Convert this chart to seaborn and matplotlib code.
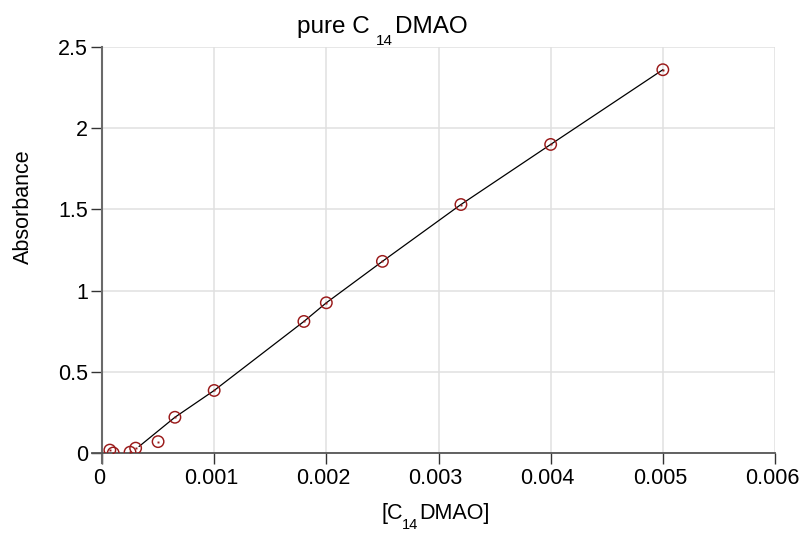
import matplotlib
matplotlib.use("Agg")
import matplotlib.pyplot as plt
import matplotlib.transforms as mtrans
import seaborn as sns
import pandas as pd

# Data
conc = [0.00007, 0.0001, 0.00025, 0.0003, 0.0005, 0.00065, 0.001, 0.0018,
        0.002, 0.0025, 0.0032, 0.004, 0.005]
absorb = [0.018, 0.0, 0.005, 0.03, 0.07, 0.22, 0.385, 0.81,
          0.925, 1.18, 1.53, 1.90, 2.36]

fit_x = [0.00033, 0.00065, 0.001, 0.0018, 0.002, 0.0025, 0.0032, 0.004, 0.005]
fit_y = [0.04, 0.22, 0.385, 0.81, 0.925, 1.18, 1.53, 1.90, 2.36]

x_ticks = [0, 0.001, 0.002, 0.003, 0.004, 0.005, 0.006]
x_tick_labels = ["0", "0.001", "0.002", "0.003", "0.004", "0.005", "0.006"]
y_ticks = [0, 0.5, 1, 1.5, 2, 2.5]
y_tick_labels = ["0", "0.5", "1", "1.5", "2", "2.5"]

title_parts = ["pure C", "14", "DMAO"]
xlabel_parts = ["[C", "14", "DMAO]"]
ylabel_text = "Absorbance"

pts = pd.DataFrame({"conc": conc, "abs": absorb})
fit = pd.DataFrame({"conc": fit_x, "abs": fit_y})

sns.set_theme(style="whitegrid")
plt.rcParams["font.family"] = ["Liberation Sans", "DejaVu Sans"]
plt.rcParams["text.color"] = "black"
plt.rcParams["axes.labelcolor"] = "black"

W, H = 803, 534
fig = plt.figure(figsize=(W / 100, H / 100), dpi=100)
L, R, T, B = 102, 775, 47, 453
ax = fig.add_axes([L / W, 1 - B / H, (R - L) / W, (B - T) / H])

red = "#9a1a1a"
sns.lineplot(data=fit, x="conc", y="abs", ax=ax, color="black", lw=0.9,
             sort=False, estimator=None, zorder=3)
sns.scatterplot(data=pts, x="conc", y="abs", ax=ax, marker="o", s=68,
                facecolor="none", edgecolor=red, linewidth=1.05, zorder=4)
ax.plot(pts["conc"], pts["abs"], ls="none", marker="s", ms=1.4, mfc=red,
        mec=red, mew=0, zorder=5)

ax.set_xlim(0, 0.006)
ax.set_ylim(0, 2.5)
ax.set_xticks(x_ticks)
ax.set_xticklabels(x_tick_labels)
ax.set_yticks(y_ticks)
ax.set_yticklabels(y_tick_labels)
ax.set_xlabel("")
ax.set_ylabel("")

ax.grid(True, color="#e0e0e0", lw=1.1)
ax.set_axisbelow(True)
for s in ["top", "right"]:
    ax.spines[s].set_visible(False)
ax.spines["left"].set_visible(True)
ax.spines["bottom"].set_visible(True)
ax.spines["left"].set_color("#6a6a6a")
ax.spines["bottom"].set_color("#555555")
ax.spines["left"].set_linewidth(1.5)
ax.spines["bottom"].set_linewidth(1.3)
ax.spines["left"].set_bounds(-0.06, 2.5)
ax.spines["bottom"].set_bounds(-0.00009, 0.006)
ax.tick_params(axis="both", which="major", direction="out", length=8, width=1,
               color="#333333", labelsize=15.5, labelcolor="black",
               bottom=True, left=True)
ax.tick_params(axis="x", pad=3)
ax.tick_params(axis="y", pad=2)
# labels in the reference sit a little left of their ticks
shift = mtrans.ScaledTranslation(-3 / 100, 0, fig.dpi_scale_trans)
for lab in ax.get_xticklabels():
    lab.set_transform(lab.get_transform() + shift)
ax.set_facecolor("white")

# compound texts with subscripts, placed in pixel coordinates (top-origin)
def px(x, y):
    return x / W, 1 - y / H

def place(x, y, s, size):
    fig.text(*px(x, y), s, fontsize=size, ha="left", va="baseline")

place(297, 33, title_parts[0], 17.5)
place(376, 45, title_parts[1], 11)
place(395, 33, title_parts[2], 17.5)

place(382, 519, xlabel_parts[0], 15.5)
place(402, 529, xlabel_parts[1], 10.5)
place(419, 519, xlabel_parts[2], 15.5)

fig.text(*px(23, 207), ylabel_text, fontsize=15.5, rotation=90,
         ha="center", va="center")

fig.savefig("out.png", dpi=100, facecolor="white")
